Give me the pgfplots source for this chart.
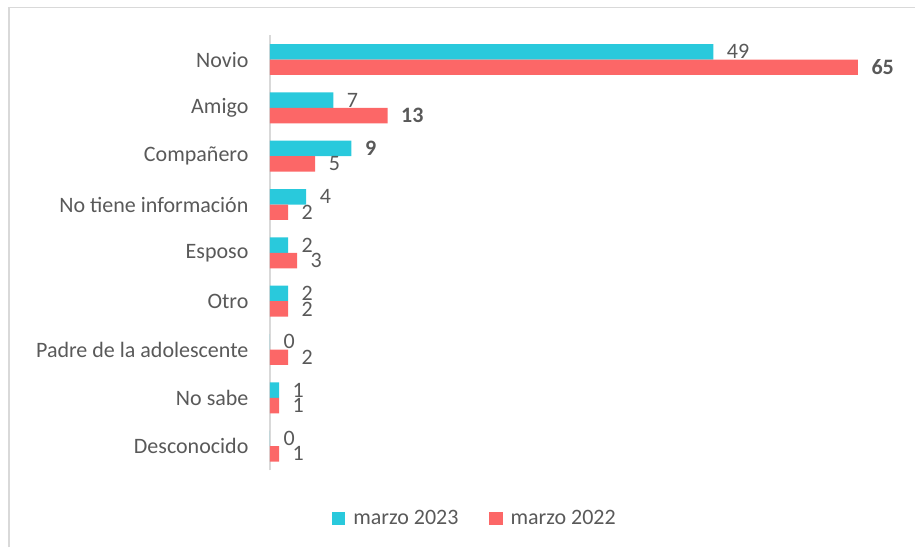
\documentclass[border=0pt]{standalone}
\usepackage{fontspec}
\setmainfont{Carlito}
\usepackage{pgfplots}
\pgfplotsset{compat=1.18}
\definecolor{c23}{HTML}{29C9DC}
\definecolor{c22}{HTML}{FC6767}
\definecolor{txt}{HTML}{595959}
\definecolor{frame}{HTML}{D9D9D9}
\begin{document}
\begin{tikzpicture}
\path[use as bounding box] (0,0) rectangle (686.25pt,410.25pt);
\draw[frame, line width=0.8pt] (6.75pt,0) -- (6.75pt,404.4pt) -- (686.25pt,404.4pt);
\begin{axis}[
  at={(202.5pt,57.5pt)}, anchor=south west,
  scale only axis, width=441pt, height=326.25pt,
  xbar, xmin=0, xmax=65, ymin=-0.5, ymax=8.5,
  axis x line=none,
  axis y line*=left,
  y axis line style={draw=frame, line width=0.8pt, -},
  ytick={0,...,8},
  yticklabels={Desconocido, No sabe, Padre de la adolescente, Otro, Esposo,
    No tiene información, Compañero, Amigo, Novio},
  major tick length=0pt,
  yticklabel style={font=\fontsize{16.5}{19}\selectfont, text=txt, inner sep=0pt, xshift=-16pt},
  bar width=11.6pt,
  point meta=explicit symbolic,
  nodes near coords,
  nodes near coords style={font=\fontsize{16.5}{19}\selectfont, text=txt, anchor=west, inner sep=0pt, xshift=10pt},
  legend columns=2,
  legend style={at={(0.349,-0.11)}, anchor=center, draw=none, fill=none,
    font=\fontsize{16.5}{19}\selectfont, text=txt,
    /tikz/every odd column/.append style={column sep=4pt},
    /tikz/every even column/.append style={column sep=21pt}},
  legend image code/.code={\fill[#1, draw=none] (0pt,-5pt) rectangle (10pt,5pt);},
  clip=false,
]
\addplot[fill=c23, draw=none, bar shift=5.8pt] coordinates {
  (49,8) [49] (7,7) [7] (9,6) [\textbf{9}] (4,5) [4] (2,4) [2]
  (2,3) [2] (0,2) [0] (1,1) [1] (0,0) [0]};
\addlegendentry{marzo 2023}
\addplot[fill=c22, draw=none, bar shift=-5.8pt] coordinates {
  (65,8) [\textbf{65}] (13,7) [\textbf{13}] (5,6) [5] (2,5) [2] (3,4) [3]
  (2,3) [2] (2,2) [2] (1,1) [1] (1,0) [1]};
\addlegendentry{marzo 2022}
\end{axis}
\end{tikzpicture}
\end{document}
